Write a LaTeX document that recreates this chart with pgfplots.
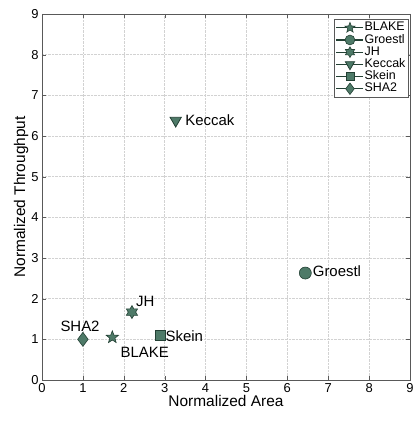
\documentclass[border=0pt]{standalone}
\usepackage{fontspec}
\setmainfont{Liberation Sans}
\usepackage{pgfplots}
\pgfplotsset{compat=1.18}
\definecolor{mfill}{RGB}{78,122,104}
\definecolor{medge}{RGB}{35,64,52}
\pgfdeclareplotmark{hexagram}{%
  \pgfpathmoveto{\pgfpointpolar{90}{\pgfplotmarksize}}%
  \pgfpathlineto{\pgfpointpolar{120}{0.577\pgfplotmarksize}}%
  \pgfpathlineto{\pgfpointpolar{150}{\pgfplotmarksize}}%
  \pgfpathlineto{\pgfpointpolar{180}{0.577\pgfplotmarksize}}%
  \pgfpathlineto{\pgfpointpolar{210}{\pgfplotmarksize}}%
  \pgfpathlineto{\pgfpointpolar{240}{0.577\pgfplotmarksize}}%
  \pgfpathlineto{\pgfpointpolar{270}{\pgfplotmarksize}}%
  \pgfpathlineto{\pgfpointpolar{300}{0.577\pgfplotmarksize}}%
  \pgfpathlineto{\pgfpointpolar{330}{\pgfplotmarksize}}%
  \pgfpathlineto{\pgfpointpolar{0}{0.577\pgfplotmarksize}}%
  \pgfpathlineto{\pgfpointpolar{30}{\pgfplotmarksize}}%
  \pgfpathlineto{\pgfpointpolar{60}{0.577\pgfplotmarksize}}%
  \pgfpathclose\pgfusepathqfillstroke}
\pgfdeclareplotmark{pentagram}{%
  \pgfpathmoveto{\pgfpointpolar{90}{\pgfplotmarksize}}%
  \pgfpathlineto{\pgfpointpolar{126}{0.42\pgfplotmarksize}}%
  \pgfpathlineto{\pgfpointpolar{162}{\pgfplotmarksize}}%
  \pgfpathlineto{\pgfpointpolar{198}{0.42\pgfplotmarksize}}%
  \pgfpathlineto{\pgfpointpolar{234}{\pgfplotmarksize}}%
  \pgfpathlineto{\pgfpointpolar{270}{0.42\pgfplotmarksize}}%
  \pgfpathlineto{\pgfpointpolar{306}{\pgfplotmarksize}}%
  \pgfpathlineto{\pgfpointpolar{342}{0.42\pgfplotmarksize}}%
  \pgfpathlineto{\pgfpointpolar{18}{\pgfplotmarksize}}%
  \pgfpathlineto{\pgfpointpolar{54}{0.42\pgfplotmarksize}}%
  \pgfpathclose\pgfusepathqfillstroke}
\begin{document}
\begin{tikzpicture}
\path[use as bounding box] (-42bp,-41bp) rectangle (377bp,380bp);
\begin{axis}[
  scale only axis, width=368bp, height=366bp,
  xmin=0, xmax=9, ymin=0, ymax=9,
  xtick={0,...,9}, ytick={0,...,9},
  tick align=inside, major tick length=4bp,
  grid=major, grid style={densely dotted, gray!35},
  axis line style={gray!70!black, line width=0.5pt},
  tick style={gray!70!black},
  /pgf/number format/assume math mode=true,
  ticklabel style={font=\fontsize{13}{14}\selectfont},
  xlabel={Normalized Area}, ylabel={Normalized Throughput},
  label style={font=\fontsize{15.5}{17}\selectfont},
  xlabel style={yshift=4bp}, ylabel style={yshift=-4bp},
  every axis plot/.append style={color=medge, fill=mfill, line width=0.8pt, mark options={solid, fill=mfill, draw=medge, line width=0.6pt}},
  legend style={at={(0.995,0.985)}, anchor=north east, font=\fontsize{12.5}{13}\selectfont, draw=gray!70!black, inner sep=2pt, row sep=0pt, cells={anchor=west},
    nodes={inner sep=0.5bp, text height=8.8bp, text depth=2.4bp}},
  legend image code/.code={\draw[#1, line width=1.3pt] (0bp,0bp) -- (27bp,0bp); \draw[#1, every mark/.append style={scale=0.82}] plot coordinates {(13.5bp,0bp)};},
]
\addplot[mark=pentagram, mark size=6.5bp] coordinates {(1.72,1.05)};
\addlegendentry{BLAKE}
\addplot[mark=*, mark size=6bp] coordinates {(6.44,2.63)};
\addlegendentry{Groestl}
\addplot[mark=hexagram, mark size=6.5bp] coordinates {(2.2,1.67)};
\addlegendentry{JH}
\addplot[mark=triangle*, mark size=6.5bp, mark options={rotate=180}] coordinates {(3.27,6.38)};
\addlegendentry{Keccak}
\addplot[mark=square*, mark size=5bp] coordinates {(2.9,1.1)};
\addlegendentry{Skein}
\addplot[mark=diamond*, mark size=7bp] coordinates {(1,1)};
\addlegendentry{SHA2}
\begin{scope}[every node/.style={font=\fontsize{15}{16}\selectfont, inner sep=0pt}]
\node[anchor=west] at (axis cs:3.5,6.38) {Keccak};
\node[anchor=west] at (axis cs:6.62,2.68) {Groestl};
\node[anchor=west] at (axis cs:2.3,1.92) {JH};
\node[anchor=west] at (axis cs:3.02,1.08) {Skein};
\node at (axis cs:0.93,1.31) {SHA2};
\node at (axis cs:2.51,0.69) {BLAKE};
\end{scope}
\end{axis}
\end{tikzpicture}
\end{document}
